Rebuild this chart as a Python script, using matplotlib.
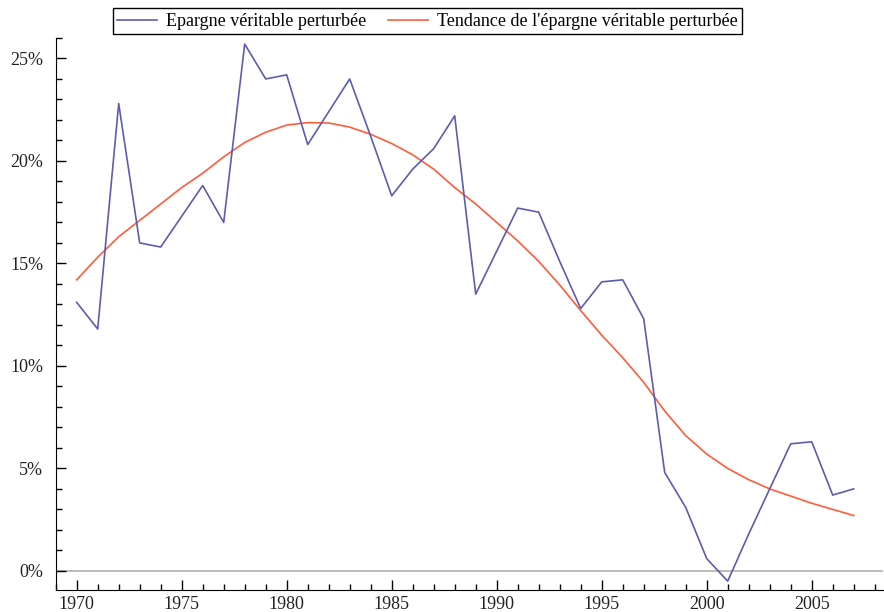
import matplotlib
matplotlib.use('Agg')
import matplotlib.pyplot as plt
from matplotlib.ticker import MultipleLocator, FuncFormatter

plt.rcParams['font.family'] = ['Liberation Serif', 'DejaVu Serif']

# Data
years = list(range(1970, 2008))
epargne = [13.1, 11.8, 22.8, 16.0, 15.8, 17.3, 18.8, 17.0, 25.7, 24.0,
           24.2, 20.8, 22.4, 24.0, 21.2, 18.3, 19.6, 20.6, 22.2, 13.5,
           15.6, 17.7, 17.5, 15.1, 12.8, 14.1, 14.2, 12.3, 4.8, 3.1,
           0.6, -0.5, 1.8, 4.0, 6.2, 6.3, 3.7, 4.0]
tendance = [14.2, 15.3, 16.3, 17.1, 17.9, 18.7, 19.4, 20.2, 20.9, 21.4,
            21.75, 21.87, 21.85, 21.65, 21.3, 20.85, 20.3, 19.6, 18.7, 17.9,
            17.0, 16.1, 15.1, 13.95, 12.7, 11.5, 10.4, 9.2, 7.8, 6.6,
            5.7, 5.0, 4.45, 4.0, 3.65, 3.3, 3.0, 2.7]
labels = ['Epargne véritable perturbée', "Tendance de l'épargne véritable perturbée"]

fig = plt.figure(figsize=(8.84, 6.12), dpi=100)
ax = fig.add_axes([0.063, 0.036, 0.936, 0.902])

ax.axhline(0, color='#b0b0b0', lw=1.2, zorder=1)
ax.plot(years, epargne, color='#5c5cb0', lw=1.2, label=labels[0], zorder=3)
ax.plot(years, tendance, color='#ff5c3c', lw=1.2, label=labels[1], zorder=2)

ax.set_xlim(1969, 2008.4)
ax.set_ylim(-0.93, 26.0)

ax.spines['top'].set_visible(False)
ax.spines['right'].set_visible(False)

ax.xaxis.set_major_locator(MultipleLocator(5))
ax.xaxis.set_minor_locator(MultipleLocator(1))
ax.yaxis.set_major_locator(MultipleLocator(5))
ax.yaxis.set_minor_locator(MultipleLocator(1))
ax.yaxis.set_major_formatter(FuncFormatter(lambda v, p: f'{v:.0f}%'))
ax.tick_params(which='major', direction='in', length=7, width=1,
               labelsize=13, labelcolor='#222222')
ax.tick_params(which='minor', direction='in', length=4, width=1)
ax.tick_params(axis='x', pad=4)
ax.tick_params(axis='y', pad=9)

ax.legend(loc='center', bbox_to_anchor=(0.4836, 0.965), bbox_transform=fig.transFigure,
          ncol=2, fontsize=13, frameon=True, fancybox=False, edgecolor='black',
          framealpha=1, borderpad=0.25, handlelength=2.2, columnspacing=1.2,
          handletextpad=0.5)

fig.savefig('out.png', dpi=100)
